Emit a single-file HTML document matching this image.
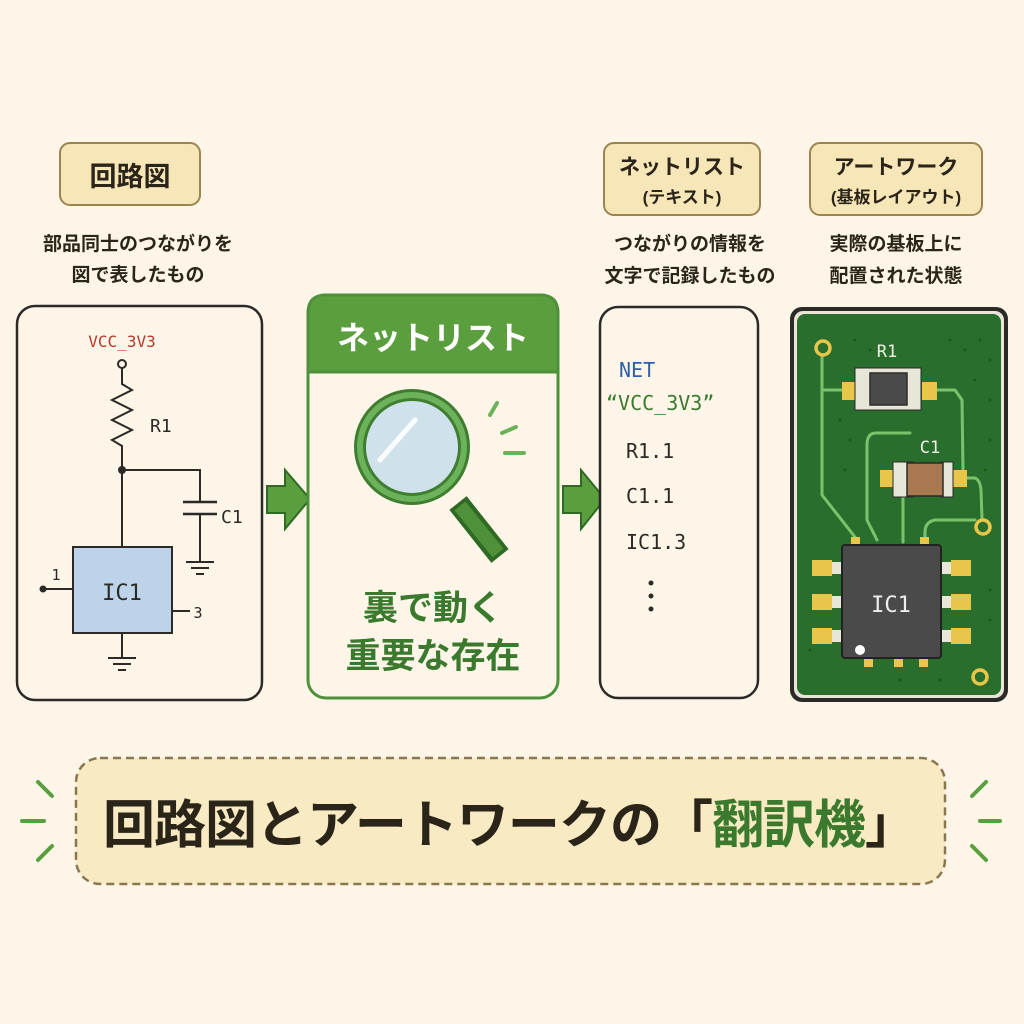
<!DOCTYPE html>
<html><head><meta charset="utf-8"><style>
html,body{margin:0;padding:0;background:#fdf6e8;}
svg{display:block;}
.jp{font-family:"Liberation Sans","Noto Sans CJK JP",sans-serif;}
.mono{font-family:"DejaVu Sans Mono","Liberation Mono",monospace;}
</style></head><body>
<svg width="1024" height="1024" viewBox="0 0 1024 1024" xmlns="http://www.w3.org/2000/svg">
<rect width="1024" height="1024" fill="#fdf6e8"/>

<!-- top labels -->
<rect x="60" y="143" width="140" height="62" rx="10" fill="#f6e6b8" stroke="#9a8550" stroke-width="2"/>
<text x="130" y="186" class="jp" font-size="27" font-weight="bold" fill="#2b2418" text-anchor="middle">回路図</text>
<text x="138" y="250" class="jp" font-size="19" font-weight="bold" fill="#2b2418" text-anchor="middle">部品同士のつながりを</text>
<text x="138" y="281" class="jp" font-size="19" font-weight="bold" fill="#2b2418" text-anchor="middle">図で表したもの</text>

<rect x="604" y="143" width="156" height="72" rx="10" fill="#f6e6b8" stroke="#9a8550" stroke-width="2"/>
<text x="682" y="174" class="jp" font-size="21" font-weight="bold" fill="#2b2418" text-anchor="middle">ネットリスト</text>
<text x="682" y="203" class="jp" font-size="17" font-weight="bold" fill="#2b2418" text-anchor="middle">(テキスト)</text>
<text x="690" y="250" class="jp" font-size="19" font-weight="bold" fill="#2b2418" text-anchor="middle">つながりの情報を</text>
<text x="690" y="282" class="jp" font-size="19" font-weight="bold" fill="#2b2418" text-anchor="middle">文字で記録したもの</text>

<rect x="810" y="143" width="172" height="72" rx="10" fill="#f6e6b8" stroke="#9a8550" stroke-width="2"/>
<text x="896" y="174" class="jp" font-size="21" font-weight="bold" fill="#2b2418" text-anchor="middle">アートワーク</text>
<text x="896" y="203" class="jp" font-size="17" font-weight="bold" fill="#2b2418" text-anchor="middle">(基板レイアウト)</text>
<text x="896" y="250" class="jp" font-size="19" font-weight="bold" fill="#2b2418" text-anchor="middle">実際の基板上に</text>
<text x="896" y="282" class="jp" font-size="19" font-weight="bold" fill="#2b2418" text-anchor="middle">配置された状態</text>

<!-- schematic box -->
<rect x="17" y="306" width="245" height="394" rx="18" fill="#fdf6e8" stroke="#2b2a26" stroke-width="2.5"/>
<text x="122" y="347" class="mono" font-size="16" fill="#b8372c" text-anchor="middle">VCC_3V3</text>
<g stroke="#2b2a26" stroke-width="2" fill="none">
<circle cx="122" cy="364" r="4"/>
<polyline points="122,368 122,384 132,390 112,400 132,410 112,420 132,430 112,440 122,446 122,547"/>
<polyline points="122,470 200,470 200,502"/>
<line x1="183" y1="502" x2="217" y2="502" stroke-width="2.5"/>
<line x1="183" y1="514" x2="217" y2="514" stroke-width="2.5"/>
<polyline points="200,514 200,562"/>
<line x1="186" y1="562" x2="214" y2="562"/><line x1="191" y1="568" x2="209" y2="568"/><line x1="196" y1="574" x2="204" y2="574"/>
<line x1="43" y1="589" x2="73" y2="589"/>
<line x1="172" y1="611" x2="190" y2="611"/>
<line x1="122" y1="633" x2="122" y2="658"/>
<line x1="108" y1="658" x2="136" y2="658"/><line x1="113" y1="664" x2="131" y2="664"/><line x1="118" y1="670" x2="126" y2="670"/>
</g>
<circle cx="122" cy="470" r="4" fill="#2b2a26"/>
<circle cx="43" cy="589" r="3.5" fill="#2b2a26"/>
<text x="150" y="432" class="mono" font-size="18" fill="#2b2a26">R1</text>
<text x="221" y="523" class="mono" font-size="18" fill="#2b2a26">C1</text>
<rect x="73" y="547" width="99" height="86" fill="#bcd3e9" stroke="#2b2a26" stroke-width="2"/>
<text x="122" y="600" class="mono" font-size="22" fill="#2b2a26" text-anchor="middle">IC1</text>
<text x="56" y="580" class="mono" font-size="15" fill="#2b2a26" text-anchor="middle">1</text>
<text x="198" y="618" class="mono" font-size="15" fill="#2b2a26" text-anchor="middle">3</text>

<!-- arrows -->
<polygon points="267,486 285,486 285,470 310,499 285,529 285,513 267,513" fill="#5a9e3e" stroke="#2f6a25" stroke-width="2"/>
<polygon points="563,486 581,486 581,470 605,499 581,529 581,513 563,513" fill="#5a9e3e" stroke="#2f6a25" stroke-width="2"/>

<!-- middle netlist box -->
<rect x="308" y="295" width="250" height="403" rx="18" fill="#fdf6e8" stroke="#4e913a" stroke-width="3"/>
<path d="M308,372 L308,313 Q308,295 326,295 L540,295 Q558,295 558,313 L558,372 Z" fill="#5a9e3e" stroke="#4e913a" stroke-width="3"/>
<text x="433" y="349" class="jp" font-size="32" font-weight="bold" fill="#ffffff" text-anchor="middle">ネットリスト</text>
<line x1="458" y1="503" x2="500" y2="556" stroke="#2f6a25" stroke-width="22" stroke-linecap="butt"/>
<line x1="460" y1="506" x2="498" y2="553" stroke="#4e913a" stroke-width="14" stroke-linecap="butt"/>
<circle cx="412" cy="447" r="52" fill="#cfe2ec" stroke="#3f7d31" stroke-width="12"/>
<circle cx="412" cy="447" r="52" fill="none" stroke="#6cb25a" stroke-width="6"/>
<line x1="380" y1="460" x2="415" y2="420" stroke="#ffffff" stroke-width="5" stroke-linecap="round" opacity="0.9"/>
<g stroke="#6cb25a" stroke-width="4" stroke-linecap="round">
<line x1="490" y1="415" x2="497" y2="403"/><line x1="502" y1="433" x2="516" y2="427"/><line x1="505" y1="453" x2="524" y2="453"/>
</g>
<text x="433" y="620" class="jp" font-size="35" font-weight="bold" fill="#3b7a2e" text-anchor="middle">裏で動く</text>
<text x="433" y="668" class="jp" font-size="35" font-weight="bold" fill="#3b7a2e" text-anchor="middle">重要な存在</text>

<!-- netlist text box -->
<rect x="600" y="307" width="158" height="391" rx="18" fill="#fdf6e8" stroke="#2b2a26" stroke-width="2.5"/>
<text x="619" y="377" class="mono" font-size="20" fill="#2d5fa8">NET</text>
<text x="606" y="410" class="mono" font-size="20" fill="#3b7a2e">“VCC_3V3”</text>
<text x="626" y="458" class="mono" font-size="20" fill="#2b2a26">R1.1</text>
<text x="626" y="503" class="mono" font-size="20" fill="#2b2a26">C1.1</text>
<text x="626" y="549" class="mono" font-size="20" fill="#2b2a26">IC1.3</text>
<circle cx="651" cy="583" r="2.5" fill="#2b2a26"/><circle cx="651" cy="596" r="2.5" fill="#2b2a26"/><circle cx="651" cy="609" r="2.5" fill="#2b2a26"/>

<!-- PCB -->
<rect x="790" y="307" width="218" height="395" rx="12" fill="#2b2a26"/>
<rect x="794" y="311" width="210" height="387" rx="9" fill="#e8e6d8"/>
<rect x="797" y="314" width="204" height="381" rx="8" fill="#2a6e2e"/>
<g fill="#1d5522">
<circle cx="855" cy="340" r="1.5"/><circle cx="870" cy="350" r="1.5"/><circle cx="950" cy="340" r="1.5"/><circle cx="965" cy="350" r="1.5"/><circle cx="980" cy="340" r="1.5"/><circle cx="990" cy="360" r="1.5"/><circle cx="975" cy="380" r="1.5"/><circle cx="990" cy="400" r="1.5"/><circle cx="840" cy="420" r="1.5"/><circle cx="850" cy="440" r="1.5"/><circle cx="845" cy="470" r="1.5"/><circle cx="990" cy="440" r="1.5"/><circle cx="985" cy="470" r="1.5"/><circle cx="810" cy="650" r="1.5"/><circle cx="990" cy="590" r="1.5"/><circle cx="990" cy="620" r="1.5"/><circle cx="900" cy="680" r="1.5"/><circle cx="940" cy="680" r="1.5"/>
</g>
<g stroke="#7cc26a" stroke-width="3" fill="none" stroke-linecap="round" stroke-linejoin="round">
<polyline points="822,356 822,390 842,390"/>
<polyline points="822,390 822,495 855,537"/>
<polyline points="937,390 955,390 962,400 963,470"/>
<path d="M910,433 L876,433 Q867,433 867,445 L867,520 L877,540"/>
<polyline points="903,497 903,542"/>
<path d="M967,478 L975,478 Q980,480 981,490 L982,518"/>
<path d="M975,520 L935,520 Q925,522 925,532 L925,540"/>
</g>
<circle cx="823" cy="348" r="7" fill="#2a6e2e" stroke="#e7c64a" stroke-width="3.5"/>
<circle cx="983" cy="527" r="7" fill="#2a6e2e" stroke="#e7c64a" stroke-width="3.5"/>
<circle cx="980" cy="677" r="7" fill="#2a6e2e" stroke="#e7c64a" stroke-width="3.5"/>
<text x="887" y="357" class="mono" font-size="17" fill="#eef0e4" text-anchor="middle">R1</text>
<rect x="842" y="382" width="15" height="18" fill="#e7c64a"/>
<rect x="922" y="382" width="15" height="18" fill="#e7c64a"/>
<rect x="855" y="368" width="66" height="42" fill="#e8e6d8" stroke="#2b2a26" stroke-width="1"/>
<rect x="870" y="373" width="37" height="32" fill="#4a4a4a" stroke="#2b2a26" stroke-width="1.5"/>
<text x="930" y="453" class="mono" font-size="17" fill="#eef0e4" text-anchor="middle">C1</text>
<rect x="880" y="470" width="13" height="17" fill="#e7c64a"/>
<rect x="953" y="470" width="14" height="17" fill="#e7c64a"/>
<rect x="893" y="462" width="20" height="35" fill="#e8e6d8" stroke="#2b2a26" stroke-width="1"/>
<rect x="941" y="462" width="12" height="35" fill="#e8e6d8" stroke="#2b2a26" stroke-width="1"/>
<rect x="907" y="463" width="36" height="33" fill="#a87850" stroke="#2b2a26" stroke-width="1.5"/>
<g fill="#e7c64a">
<rect x="851" y="537" width="9" height="10"/><rect x="920" y="537" width="9" height="10"/>
<rect x="864" y="657" width="9" height="10"/><rect x="894" y="657" width="9" height="10"/><rect x="919" y="657" width="9" height="10"/>
<rect x="812" y="560" width="20" height="16"/><rect x="812" y="594" width="20" height="16"/><rect x="812" y="628" width="20" height="16"/>
<rect x="951" y="560" width="20" height="16"/><rect x="951" y="594" width="20" height="16"/><rect x="951" y="628" width="20" height="16"/>
</g>
<g fill="#e8e6d8">
<rect x="832" y="562" width="10" height="12"/><rect x="832" y="596" width="10" height="12"/><rect x="832" y="630" width="10" height="12"/>
<rect x="941" y="562" width="10" height="12"/><rect x="941" y="596" width="10" height="12"/><rect x="941" y="630" width="10" height="12"/>
</g>
<rect x="842" y="545" width="99" height="113" rx="3" fill="#4a4a4a" stroke="#222" stroke-width="2"/>
<text x="891" y="612" class="mono" font-size="22" fill="#eeeeee" text-anchor="middle">IC1</text>
<circle cx="860" cy="650" r="5" fill="#ffffff"/>

<!-- banner -->
<rect x="76" y="758" width="869" height="126" rx="24" fill="#f8ebc3" stroke="#8a7650" stroke-width="2.5" stroke-dasharray="8 5"/>
<text x="103" y="843" class="jp" font-size="52" font-weight="bold" fill="#2b2418" textLength="814" lengthAdjust="spacing">回路図とアートワークの「<tspan fill="#3b7a2e">翻訳機</tspan>」</text>
<g stroke="#5a9e3e" stroke-width="4" stroke-linecap="round">
<line x1="38" y1="782" x2="52" y2="796"/><line x1="22" y1="821" x2="44" y2="821"/><line x1="38" y1="860" x2="52" y2="846"/>
<line x1="986" y1="782" x2="972" y2="796"/><line x1="980" y1="821" x2="1000" y2="821"/><line x1="986" y1="860" x2="972" y2="846"/>
</g>
</svg>
</body></html>
